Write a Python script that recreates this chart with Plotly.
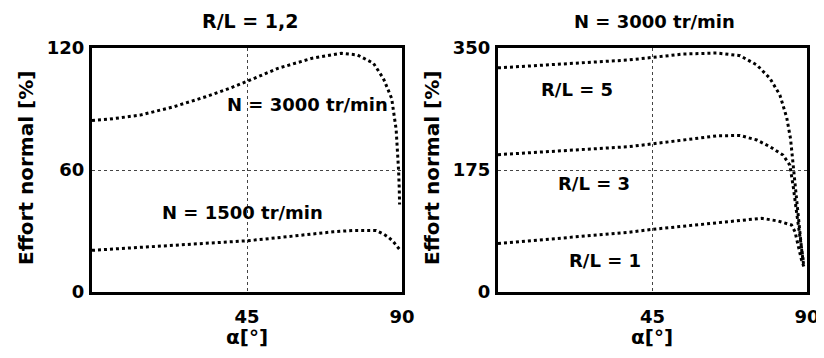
import plotly.graph_objects as go

# ---- data ----
alpha_l3000 = [0, 5, 14, 23.5, 33, 40, 45, 54, 64, 72.5, 77, 81.7, 84.6, 87, 88.3, 88.7, 89.0, 89.2, 89.3]
eff_l3000 = [84.3, 85, 87, 91, 96, 100.2, 103.6, 110, 115, 117.4, 116.6, 112.5, 105, 95.2, 80, 70, 60, 51, 43]

alpha_l1500 = [0, 10, 20, 30, 40, 45, 50, 60, 70, 76, 80, 82.5, 84.6, 86, 87.5, 88.5, 89.4]
eff_l1500 = [20.5, 21.5, 22.5, 23.5, 24.7, 25.2, 26, 27.9, 29.6, 30.3, 30.4, 30.2, 28.5, 27, 24.7, 22.8, 20.7]

alpha_r5 = [0, 18.5, 38, 45, 54, 63.7, 70.5, 75.4, 79.2, 82.1, 84.1, 85.2, 86.0, 86.8, 87.5, 88.5, 89.1]
eff_r5 = [321.5, 327, 332.8, 336.5, 341.4, 342.8, 339, 325.6, 306.5, 282.6, 250, 220, 180, 140, 100, 58, 36]

alpha_r3 = [0, 18.5, 38, 45, 54, 63.7, 70.5, 75.4, 79.2, 83, 85, 86, 87, 88, 88.9]
eff_r3 = [197, 202.3, 208.4, 212.5, 218, 224, 224.5, 218, 208.4, 196.5, 182, 151, 113, 75, 46]

alpha_r1 = [0, 18.5, 38, 45, 57.4, 71.9, 76.8, 81.6, 85.5, 86.5, 87.5, 88.4, 89.1]
eff_r1 = [69.5, 77, 85.6, 89.9, 96.1, 104.3, 105.7, 101.8, 96.1, 86.5, 65, 46, 36.3]

x_ticks = [45, 90]
y_ticks_left = [0, 60, 120]
y_ticks_right = [0, 175, 350]

title_left = "R/L = 1,2"
title_right = "N = 3000 tr/min"
y_title = "Effort normal [%]"
x_title = "α[°]"

FONT = "DejaVu Sans"
# the page body has an 8px margin; figure sized so that it fills the 824x358 window exactly
OFF = 8
W, H = 824 - OFF, 358 - 2 * OFF


def px(p):
    return (p - OFF) / W


def py(p):
    return (292 - p) / 244.0


fig = go.Figure()
line = dict(color="black", width=3, dash="dot")
for xs, ys in [(alpha_l3000, eff_l3000), (alpha_l1500, eff_l1500)]:
    fig.add_trace(go.Scatter(x=xs, y=ys, mode="lines", line=line, xaxis="x", yaxis="y", hoverinfo="skip"))
for xs, ys in [(alpha_r5, eff_r5), (alpha_r3, eff_r3), (alpha_r1, eff_r1)]:
    fig.add_trace(go.Scatter(x=xs, y=ys, mode="lines", line=line, xaxis="x2", yaxis="y2", hoverinfo="skip"))

axis_common = dict(
    showline=True, linecolor="black", linewidth=3, mirror=True,
    showgrid=True, gridcolor="#444", gridwidth=1, griddash="dot",
    zeroline=False, ticks="", ticklen=0, automargin=False,
    tickfont=dict(family=FONT, size=18, color="black", weight="bold"),
    fixedrange=True,
)
fig.update_layout(
    template="none",
    width=W, height=H,
    margin=dict(l=0, r=0, t=48 - OFF, b=H - (292 - OFF), pad=0),
    plot_bgcolor="white", paper_bgcolor="white",
    showlegend=False,
    xaxis=dict(domain=[px(92), px(402)], range=[0, 90], tickvals=x_ticks,
               ticklabelstandoff=6, anchor="y", **axis_common),
    yaxis=dict(domain=[0, 1], range=[0, 120], tickvals=y_ticks_left,
               ticklabelstandoff=1, anchor="x", **axis_common),
    xaxis2=dict(domain=[px(498), px(807)], range=[0, 90], tickvals=x_ticks,
                ticklabelstandoff=6, anchor="y2", **axis_common),
    yaxis2=dict(domain=[0, 1], range=[0, 350], tickvals=y_ticks_right,
                ticklabelstandoff=1, anchor="x2", **axis_common),
)

tf = dict(family=FONT, size=18, color="black", weight="bold")
af = dict(family=FONT, size=20, color="black", weight="bold")
C = dict(xanchor="center", yanchor="middle", showarrow=False)
ann = []
# titles
ann.append(dict(text=title_left, x=px(250), y=py(21), xref="paper", yref="paper",
                font=dict(tf, size=19), **C))
ann.append(dict(text=title_right, x=px(654), y=py(21), xref="paper", yref="paper", font=tf, **C))
# axis titles
for cx in (26, 432):
    ann.append(dict(text=y_title, x=px(cx), y=py(168), xref="paper", yref="paper",
                    textangle=-90, font=af, **C))
for cx in (247, 652):
    ann.append(dict(text=x_title, x=px(cx), y=py(337), xref="paper", yref="paper", font=af, **C))
# curve labels
ann.append(dict(text="N = 3000 tr/min", x=62.7, y=92, xref="x", yref="y", font=tf, **C))
ann.append(dict(text="N = 1500 tr/min", x=43.8, y=39.3, xref="x", yref="y", font=tf, **C))
ann.append(dict(text="R/L = 5", x=23, y=290, xref="x2", yref="y2", font=tf, **C))
ann.append(dict(text="R/L = 3", x=28, y=155, xref="x2", yref="y2", font=tf, **C))
ann.append(dict(text="R/L = 1", x=31.2, y=44.5, xref="x2", yref="y2", font=tf, **C))
fig.update_layout(annotations=ann)

fig.write_html("out.html")
